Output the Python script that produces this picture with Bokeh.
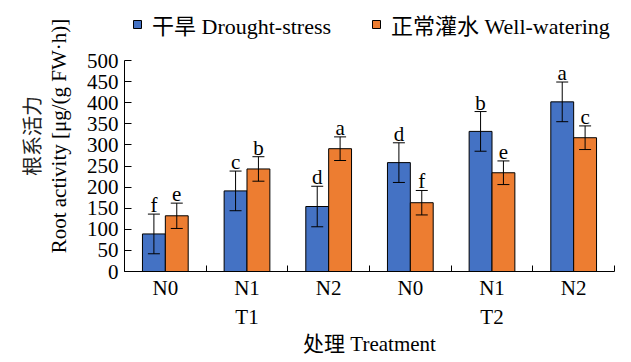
from bokeh.plotting import figure
from bokeh.models import (ColumnDataSource, Range1d, FixedTicker, LinearAxis, Legend,
                          LegendItem, Whisker)
from bokeh.core.properties import value
from bokeh.embed import file_html
from bokeh.resources import INLINE

# ---- data ----
groups = ["N0", "N1", "N2", "N0", "N1", "N2"]
treatments = ["T1", "T2"]
drought = [89, 191, 154, 258, 332, 402]
drought_err = [47, 47, 48, 47, 47, 47]
drought_sig = ["f", "c", "d", "d", "b", "a"]
well = [132, 243, 291, 163, 234, 317]
well_err = [30, 29, 28, 29, 28, 28]
well_sig = ["e", "b", "a", "f", "e", "c"]
yticks = [0, 50, 100, 150, 200, 250, 300, 350, 400, 450, 500]
y_max = 500

BLUE = "#4472C4"
ORANGE = "#ED7D31"
FONT = "Liberation Serif, Noto Sans CJK SC"
FS = "21px"

n = len(groups)
centers = [i + 0.5 for i in range(n)]
off = 0.14
bw = 0.28

# frame: axis area is 211 px tall, with 60 px of headroom above for the legend
AXIS_PX = 211
TOP_PX = 60
frame_h = AXIS_PX + TOP_PX

src_d = ColumnDataSource(dict(
    x=[c - off for c in centers], top=drought,
    upper=[v + e for v, e in zip(drought, drought_err)],
    lower=[v - e for v, e in zip(drought, drought_err)],
    sig=drought_sig))
src_w = ColumnDataSource(dict(
    x=[c + off for c in centers], top=well,
    upper=[v + e for v, e in zip(well, well_err)],
    lower=[v - e for v, e in zip(well, well_err)],
    sig=well_sig))

p = figure(frame_width=490, frame_height=frame_h, output_backend="svg", toolbar_location=None,
           x_range=Range1d(0, n), y_range=Range1d(0, y_max * frame_h / AXIS_PX),
           min_border_left=124, min_border_right=9, min_border_top=0, min_border_bottom=60)
p.xgrid.visible = False
p.ygrid.visible = False
p.outline_line_color = None
p.background_fill_color = "white"
p.border_fill_color = "white"

r_d = p.vbar(x="x", top="top", width=bw, bottom=0, source=src_d,
             fill_color=BLUE, line_color="black", line_width=1)
r_w = p.vbar(x="x", top="top", width=bw, bottom=0, source=src_w,
             fill_color=ORANGE, line_color="black", line_width=1)

for src in (src_d, src_w):
    w = Whisker(source=src, base="x", upper="upper", lower="lower",
                line_color="black", line_width=1, level="overlay")
    w.upper_head.size = 12
    w.lower_head.size = 12
    w.upper_head.line_color = "black"
    w.lower_head.line_color = "black"
    p.add_layout(w)
    p.text(x="x", y="upper", text="sig", source=src, text_align="center",
           text_baseline="alphabetic", y_offset=-9,
           text_font=value(FONT), text_font_size=FS, text_color="black")

# ---- x axis (bottom, groups) ----
xa = p.xaxis[0]
xa.ticker = FixedTicker(ticks=centers, minor_ticks=list(range(n + 1)))
xa.major_label_overrides = {c: g for c, g in zip(centers, groups)}
xa.major_tick_in = 0
xa.major_tick_out = 0
xa.minor_tick_in = 6
xa.minor_tick_out = 0
xa.axis_line_color = "black"
xa.minor_tick_line_color = "black"
xa.major_label_text_font = FONT
xa.major_label_text_font_size = FS
xa.major_label_text_color = "black"
xa.major_label_standoff = 4

xa2 = LinearAxis(ticker=FixedTicker(ticks=[1.5, 4.5]),
                 major_label_overrides={1.5: treatments[0], 4.5: treatments[1]},
                 axis_line_color=None, major_tick_line_color=None, minor_tick_line_color=None,
                 major_tick_in=0, major_tick_out=0,
                 major_label_text_font=FONT, major_label_text_font_size=FS,
                 major_label_text_color="black", major_label_standoff=2,
                 axis_label="处理 Treatment", axis_label_text_font=FONT,
                 axis_label_text_font_size=FS, axis_label_text_font_style="normal",
                 axis_label_text_color="black", axis_label_standoff=0)
p.add_layout(xa2, "below")

# ---- y axis ----
ya = p.yaxis[0]
ya.ticker = FixedTicker(ticks=yticks)
ya.bounds = (0, y_max)
ya.major_tick_in = 7
ya.major_tick_out = 0
ya.minor_tick_line_color = None
ya.axis_line_color = "black"
ya.major_label_text_font = FONT
ya.major_label_text_font_size = FS
ya.major_label_text_color = "black"
ya.major_label_standoff = 6
ya.axis_label = "Root activity [μg/(g FW·h)]"
ya.axis_label_text_font = FONT
ya.axis_label_text_font_size = FS
ya.axis_label_text_font_style = "normal"
ya.axis_label_text_color = "black"
ya.axis_label_standoff = 13

ya2 = LinearAxis(ticker=FixedTicker(ticks=[]), axis_line_color=None,
                 major_tick_line_color=None, minor_tick_line_color=None,
                 major_tick_in=0, major_tick_out=0,
                 axis_label="根系活力", axis_label_text_font=FONT,
                 axis_label_text_font_size="20px", axis_label_text_font_style="normal",
                 axis_label_text_color="#222222", axis_label_standoff=0)
p.add_layout(ya2, "left")

# ---- legend (inside the extended frame, above the axis area) ----
legend = Legend(items=[LegendItem(label="干旱 Drought-stress", renderers=[r_d]),
                       LegendItem(label="正常灌水 Well-watering", renderers=[r_w])],
                orientation="horizontal", location=(8, 231),
                glyph_width=10, glyph_height=10, label_standoff=10, spacing=40,
                label_text_font=FONT, label_text_font_size="22px", label_text_color="black",
                background_fill_alpha=0, border_line_color=None, padding=0, margin=0)
p.add_layout(legend)

open("out.html", "w").write(file_html(p, INLINE))
